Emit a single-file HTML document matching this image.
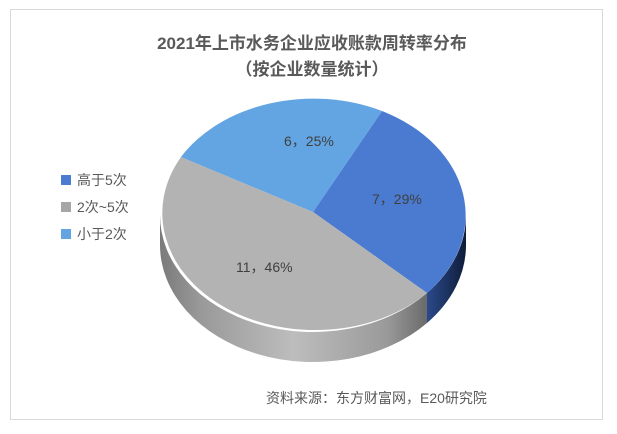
<!DOCTYPE html>
<html><head><meta charset="utf-8"><style>
body{margin:0;background:#fff;}
svg{display:block;font-family:"Liberation Sans","Noto Sans CJK SC",sans-serif;}
</style></head><body>
<svg width="617" height="434" viewBox="0 0 617 434">
<defs>
<linearGradient id="g" x1="0" x2="1" y1="0" y2="0">
<stop offset="0" stop-color="#7a7a7a"/><stop offset="0.15" stop-color="#999"/><stop offset="0.5" stop-color="#bdbdbd"/><stop offset="0.85" stop-color="#9a9a9a"/><stop offset="1" stop-color="#6a6a6a"/></linearGradient>
<linearGradient id="b" x1="0" x2="1"><stop offset="0" stop-color="#2b4a8a"/><stop offset="1" stop-color="#0f1c3a"/></linearGradient>
</defs>
<rect x="10.5" y="9.5" width="592" height="410" fill="#fff" stroke="#d9d9d9"/>
<text x="312" y="49" text-anchor="middle" font-size="17" font-weight="bold" fill="#595959">2021年上市水务企业应收账款周转率分布</text>
<text x="312" y="75" text-anchor="middle" font-size="17" font-weight="bold" fill="#595959">（按企业数量统计）</text>
<!-- side -->
<path d="M160,214 A153,117 0 0 0 427,293 L427,323 A153,117 0 0 1 160,244 Z" fill="url(#g)"/>
<path d="M427,293 A153,117 0 0 0 466,214 L466,244 A153,117 0 0 1 427,323 Z" fill="url(#b)"/>
<!-- top -->
<path d="M313,212 L382,111 A153,117 0 0 1 427,293 Z" fill="#4a7bd0"/>
<path d="M313,212 L427,293 A153,117 0 0 1 181,157 Z" fill="#b3b3b3"/>
<path d="M313,212 L181,157 A153,117 0 0 1 382,111 Z" fill="#62a5e2"/>
<g font-size="14" fill="#404040">
<text x="284" y="146">6，25%</text>
<text x="372" y="204">7，29%</text>
<text x="236" y="272">11，46%</text>
</g>
<g font-size="14" fill="#595959">
<rect x="61" y="175" width="10" height="10" fill="#4a7bd0"/><text x="77" y="185">高于5次</text>
<rect x="61" y="202" width="10" height="10" fill="#a6a6a6"/><text x="77" y="212">2次~5次</text>
<rect x="61" y="229" width="10" height="10" fill="#62a5e2"/><text x="77" y="239">小于2次</text>
<text x="266" y="403">资料来源：东方财富网，E20研究院</text>
</g>
</svg>
</body></html>
